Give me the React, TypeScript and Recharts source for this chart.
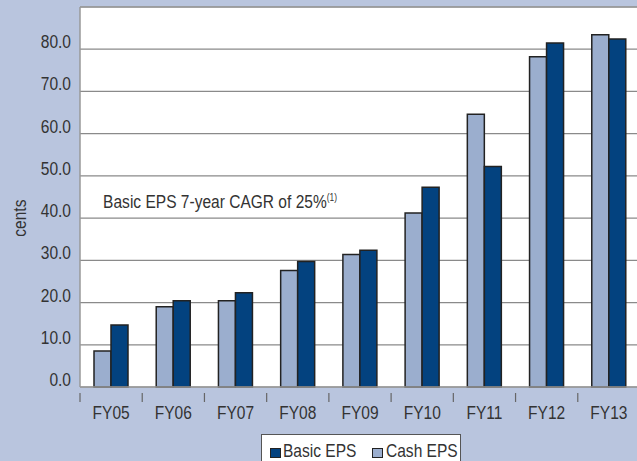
import React from 'react';
import { BarChart, Bar, XAxis, YAxis, CartesianGrid, Legend, ReferenceLine, ReferenceDot } from 'recharts';

const categories = ['FY05', 'FY06', 'FY07', 'FY08', 'FY09', 'FY10', 'FY11', 'FY12', 'FY13'];
const basicEps = [14.7, 20.4, 22.3, 29.7, 32.4, 47.3, 52.2, 81.5, 82.4];
const cashEps = [8.5, 19.0, 20.4, 27.6, 31.4, 41.2, 64.6, 78.2, 83.4];
const yTicks = [0, 10, 20, 30, 40, 50, 60, 70, 80];
const annotation = 'Basic EPS 7-year CAGR of 25%';
const annotationNote = '(1)';

const data = categories.map((c, i) => ({ name: c, basic: basicEps[i], cash: cashEps[i] }));

const FONT = '"Liberation Sans", Arial, sans-serif';
const SX = 0.84;
const FS = 18.5;
const TEXT = '#333333';
const BG = '#b9c5de';
const DARK = '#03427f';
const LIGHT = '#9baece';

const CHART_W = 645;
const MARGIN = { top: 7, right: 5, left: 0, bottom: 0 };
const Y_W = 80;
const BAND = (CHART_W - MARGIN.left - MARGIN.right - Y_W) / categories.length;

const NText = ({ x, y, anchor = 'start', size = FS, children, rotate = 0 }: any) => (
  <text
    transform={`translate(${x},${y}) rotate(${rotate}) scale(${SX},1)`}
    x={0}
    y={0}
    textAnchor={anchor}
    fill={TEXT}
    fontSize={size}
    fontFamily={FONT}
  >
    {children}
  </text>
);

const XTick = (props: any) => {
  const { x, y, payload } = props;
  const bx = x - BAND / 2;
  return (
    <g>
      <line x1={bx} x2={bx} y1={y + 4} y2={y + 13} stroke="#666" strokeWidth={1.2} />
      <NText x={x} y={y + 30} anchor="middle">{payload.value}</NText>
    </g>
  );
};

const YTick = (props: any) => {
  const { x, y, payload } = props;
  return <NText x={x} y={y - 1} anchor="end">{Number(payload.value).toFixed(1)}</NText>;
};

const legendText: React.CSSProperties = {
  position: 'absolute',
  top: 7,
  fontFamily: FONT,
  fontSize: FS,
  lineHeight: '18px',
  color: TEXT,
  whiteSpace: 'nowrap',
  transform: `scaleX(${SX})`,
  transformOrigin: '0 0',
};
const legendSquare: React.CSSProperties = {
  position: 'absolute',
  top: 13,
  width: 9,
  height: 8,
  border: '1px solid #222',
};

const LegendContent = () => (
  <div
    style={{
      position: 'relative',
      boxSizing: 'border-box',
      width: 200,
      height: 34,
      background: '#fff',
      border: '1.5px solid #555',
    }}
  >
    <span style={{ ...legendSquare, left: 8, background: DARK }} />
    <span style={{ ...legendText, left: 21 }}>Basic EPS</span>
    <span style={{ ...legendSquare, left: 110, background: LIGHT }} />
    <span style={{ ...legendText, left: 124 }}>Cash EPS</span>
  </div>
);

const AnnotationLabel = (props: any) => {
  const { viewBox } = props;
  const x = viewBox.x + (viewBox.width || 0) / 2 - 8;
  const y = viewBox.y + (viewBox.height || 0) / 2;
  return (
    <NText x={x} y={y}>
      {annotation}
      <tspan fontSize={10} dy={-7}>{annotationNote}</tspan>
    </NText>
  );
};

const CentsLabel = (props: any) => {
  const { viewBox } = props;
  const x = viewBox.x + 26;
  const y = viewBox.y + viewBox.height * (1 - 40 / 90);
  return <NText x={x} y={y} anchor="middle" rotate={-90}>cents</NText>;
};

export default function App() {
  return (
    <div style={{ position: 'fixed', left: 0, top: 0, width: 637, height: 461, background: BG, overflow: 'hidden' }}>
      <BarChart width={CHART_W} height={461} data={data} margin={MARGIN} barGap={0} barSize={17}>
        <CartesianGrid vertical={false} stroke="#8a8a8a" strokeWidth={1.2} fill="#ffffff" fillOpacity={1} />
        <XAxis
          dataKey="name"
          height={40}
          axisLine={{ stroke: '#999', strokeWidth: 1.5 }}
          tickLine={false}
          tickSize={0}
          tick={<XTick />}
          interval={0}
        />
        <YAxis
          width={Y_W}
          domain={[0, 90]}
          ticks={yTicks}
          axisLine={{ stroke: '#999', strokeWidth: 1.5 }}
          tickLine={false}
          tickSize={0}
          tickMargin={9}
          tick={<YTick />}
          label={<CentsLabel />}
        />
        <ReferenceLine y={90} stroke="#999" strokeWidth={1.5} />
        <ReferenceDot x="FY05" y={42.4} r={0} fill="none" stroke="none" label={<AnnotationLabel />} />
        <Bar dataKey="cash" name="Cash EPS" fill={LIGHT} stroke="#222" strokeWidth={1.5} isAnimationActive={false} />
        <Bar dataKey="basic" name="Basic EPS" fill={DARK} stroke="#222" strokeWidth={1.5} isAnimationActive={false} />
        <Legend
          content={<LegendContent />}
          wrapperStyle={{ position: 'absolute', left: 261, top: 434, width: 200, height: 34 }}
        />
      </BarChart>
    </div>
  );
}
